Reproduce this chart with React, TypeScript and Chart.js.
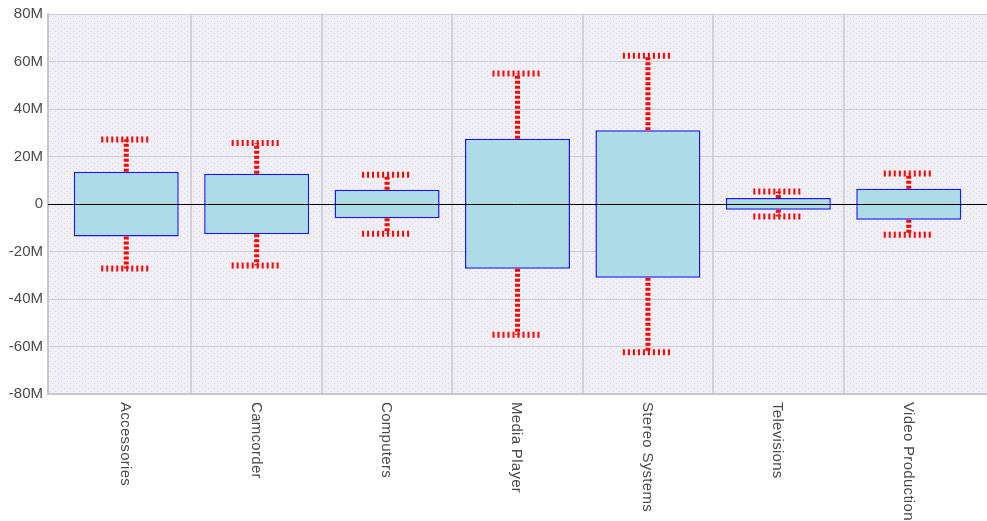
import React, { useEffect, useRef } from 'react';
import { Chart, registerables } from 'chart.js';

Chart.register(...registerables);

const categories = ['Accessories', 'Camcorder', 'Computers', 'Media Player', 'Stereo Systems', 'Televisions', 'Video Production'];
const boxHigh = [13600000, 12700000, 6000000, 27500000, 31100000, 2500000, 6400000];
const boxLow = [-13700000, -12700000, -6000000, -27300000, -31100000, -2400000, -6600000];
const whiskerHigh = [27200000, 25700000, 12300000, 55000000, 62400000, 5300000, 12800000];
const whiskerLow = [-27200000, -25900000, -12500000, -55000000, -62400000, -5300000, -12900000];
const yTickValues = [-80000000, -60000000, -40000000, -20000000, 0, 20000000, 40000000, 60000000, 80000000];

const FONT = '"Liberation Sans", Arial, sans-serif';

function makePattern(ctx: CanvasRenderingContext2D) {
  const c = document.createElement('canvas');
  c.width = 6;
  c.height = 5;
  const p = c.getContext('2d')!;
  p.fillStyle = '#EFEFF5';
  p.fillRect(0, 0, 6, 5);
  p.fillStyle = '#D8D8E2';
  p.fillRect(1, 1, 1, 1);
  p.fillRect(4, 3, 1, 1);
  return ctx.createPattern(c, 'repeat');
}

const customPlugin = {
  id: 'custom',
  beforeDraw(chart: any) {
    const { ctx, chartArea } = chart;
    ctx.save();
    ctx.fillStyle = makePattern(ctx) || '#EFEFF5';
    ctx.fillRect(chartArea.left, chartArea.top, chartArea.right - chartArea.left, chartArea.bottom - chartArea.top);
    ctx.restore();
  },
  afterDatasetsDraw(chart: any) {
    const { ctx, chartArea, scales } = chart;
    const xs = scales.x;
    const ys = scales.y;
    ctx.save();
    ctx.strokeStyle = '#FF0000';
    for (let i = 0; i < categories.length; i++) {
      const x = xs.getPixelForValue(i);
      const pairs = [
        [boxHigh[i], whiskerHigh[i]],
        [boxLow[i], whiskerLow[i]],
      ];
      for (const [b, w] of pairs) {
        const yb = ys.getPixelForValue(b);
        const yw = ys.getPixelForValue(w);
        ctx.lineWidth = 5;
        ctx.setLineDash([3, 2]);
        ctx.beginPath();
        ctx.moveTo(x, yb);
        ctx.lineTo(x, yw);
        ctx.stroke();
        ctx.lineWidth = 6;
        ctx.setLineDash([2, 3]);
        ctx.beginPath();
        ctx.moveTo(x - 25, yw);
        ctx.lineTo(x + 25, yw);
        ctx.stroke();
      }
    }
    ctx.setLineDash([]);
    const y0 = Math.round(ys.getPixelForValue(0)) + 0.5;
    ctx.strokeStyle = '#000000';
    ctx.lineWidth = 1;
    ctx.beginPath();
    ctx.moveTo(chartArea.left, y0);
    ctx.lineTo(chartArea.right, y0);
    ctx.stroke();
    ctx.restore();
  },
  afterDraw(chart: any) {
    const { ctx, chartArea, scales } = chart;
    const xs = scales.x;
    ctx.save();
    ctx.fillStyle = '#4A4A4A';
    ctx.font = '15px ' + FONT;
    try { (ctx as any).letterSpacing = '0.3px'; } catch (e) { /* ignore */ }
    ctx.textAlign = 'left';
    ctx.textBaseline = 'middle';
    for (let i = 0; i < categories.length; i++) {
      const x = xs.getPixelForValue(i);
      ctx.save();
      ctx.translate(x - 1, chartArea.bottom + 8);
      ctx.rotate(Math.PI / 2);
      ctx.fillText(categories[i], 0, 0);
      ctx.restore();
    }
    ctx.restore();
  },
};

export default function App() {
  const ref = useRef<HTMLCanvasElement>(null);
  useEffect(() => {
    const canvas = ref.current!;
    const chart = new Chart(canvas, {
      type: 'bar',
      data: {
        datasets: [
          {
            data: categories.map((_, i) => ({ x: i, y: [boxLow[i], boxHigh[i]] })) as any,
            backgroundColor: '#ADDCE6',
            borderColor: '#1A1AFF',
            borderWidth: 1.5,
            borderSkipped: false,
            categoryPercentage: 1,
            barPercentage: 0.805,
          } as any,
        ],
      },
      options: {
        animation: false,
        responsive: false,
        layout: { padding: { top: 11, left: 0, right: 0, bottom: 0 } },
        plugins: { legend: { display: false }, tooltip: { enabled: false } },
        scales: {
          x: {
            type: 'linear',
            min: -0.6,
            max: 6.6,
            offset: false,
            afterBuildTicks: (scale: any) => {
              scale.ticks = [0.5, 1.5, 2.5, 3.5, 4.5, 5.5].map((v) => ({ value: v }));
            },
            afterFit: (scale: any) => {
              scale.height = 127;
            },
            ticks: { display: false },
            grid: { color: '#D2D2D8', lineWidth: 2, drawTicks: false, offset: false },
            border: { color: '#C8C8CC', width: 2 },
          },
          y: {
            type: 'linear',
            min: -80000000,
            max: 80000000,
            afterBuildTicks: (scale: any) => {
              scale.ticks = yTickValues.map((v) => ({ value: v }));
            },
            afterFit: (scale: any) => {
              scale.width = 48;
            },
            ticks: {
              color: '#4A4A4A',
              font: { family: FONT, size: 15 },
              padding: 5,
              callback: (v: any) => (v === 0 ? '0' : v / 1000000 + 'M'),
            },
            grid: { color: '#CDCDD2', lineWidth: 1, drawTicks: false },
            border: { color: '#C8C8CC', width: 2 },
          },
        },
      } as any,
      plugins: [customPlugin],
    });
    return () => chart.destroy();
  }, []);
  return (
    <div style={{ position: 'fixed', left: 0, top: 0, width: 987, height: 521, background: '#fff' }}>
      <canvas ref={ref} width={987} height={521} />
    </div>
  );
}
